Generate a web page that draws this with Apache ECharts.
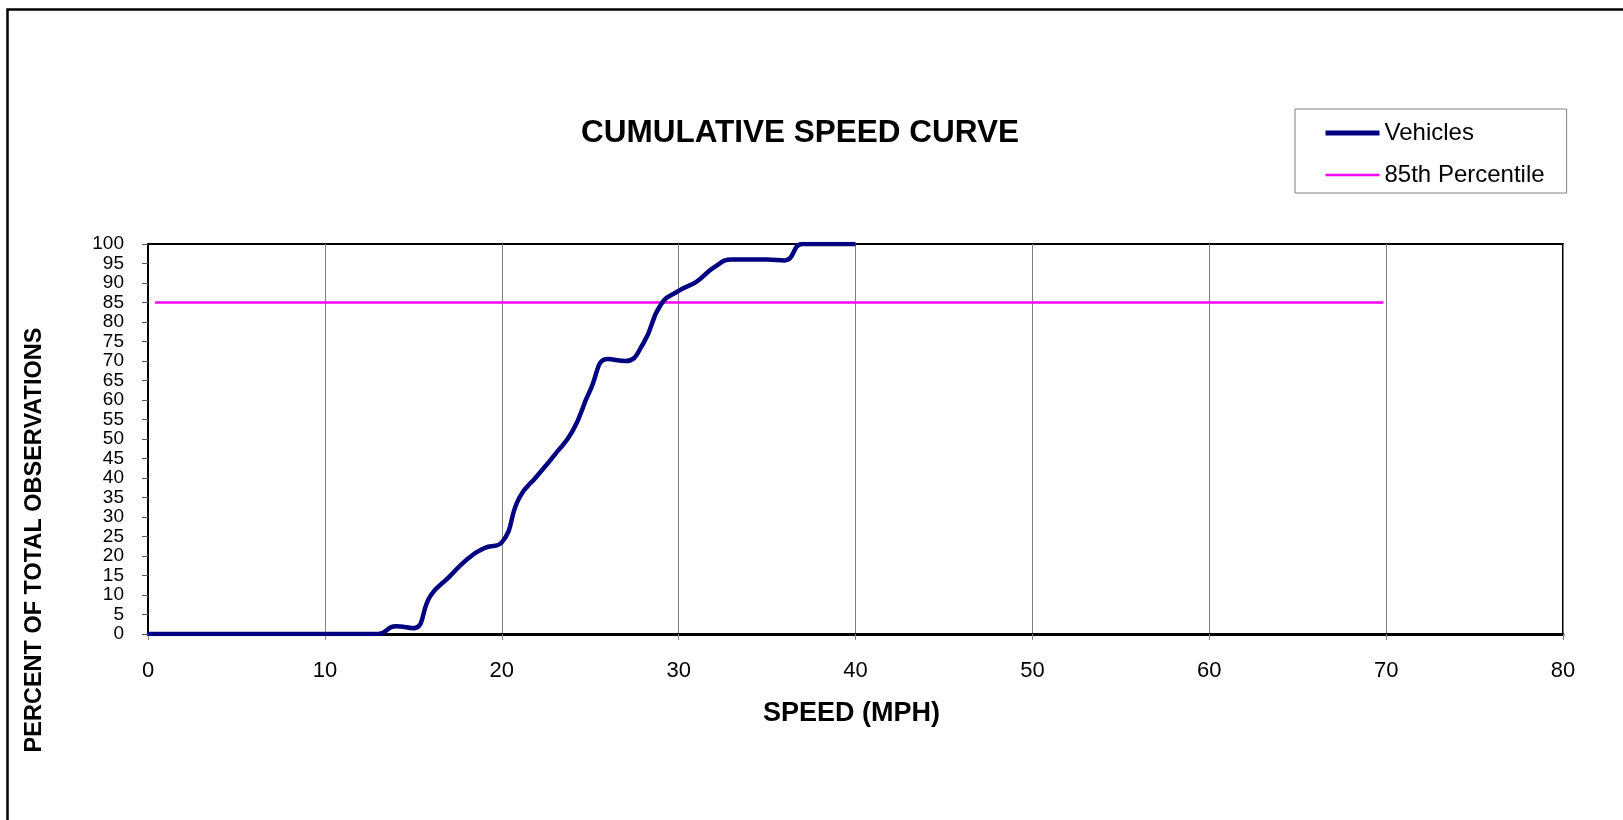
<!DOCTYPE html>
<html>
<head>
<meta charset="utf-8">
<script src="https://cdn.jsdelivr.net/npm/echarts@6/dist/echarts.min.js"></script>
<style>
  html, body { margin: 0; padding: 0; background: #fff; }
  #chart { width: 1623px; height: 820px; }
</style>
</head>
<body>
<div id="chart"></div>
<script>
// ---- data ----
const speeds = [0,1,2,3,4,5,6,7,8,9,10,11,12,13,14,15,16,17,18,19,20,21,22,23,24,25,26,27,28,29,30,31,32,33,34,35,36,37,38,39,40];
const vehicles = [0,0,0,0,0,0,0,0,0,0,0,0,0,0,2,1.5,10,14.5,19,22,23.5,35,40.5,46,52,62.5,70.5,70,74.5,84.5,88,90.3,94,96,96,96,95.8,100,100,100,100];
const percentileX = [0.4, 69.85];
const percentileY = [85, 85];
const xTicks = [0,10,20,30,40,50,60,70,80];
const seriesNames = ['Vehicles', '85th Percentile'];
const titleText = 'CUMULATIVE SPEED CURVE';
const xTitle = 'SPEED (MPH)';
const yTitle = 'PERCENT OF TOTAL OBSERVATIONS';

const vehData = speeds.map((s, i) => [s, vehicles[i]]);
const pctData = percentileX.map((s, i) => [s, percentileY[i]]);

const chart = echarts.init(document.getElementById('chart'), null, { renderer: 'canvas' });
const FONT = 'Liberation Sans, Arial, sans-serif';
const VEH_COLOR = '#000080';
const PCT_COLOR = '#FF00FF';

chart.setOption({
  backgroundColor: '#fff',
  animation: false,
  grid: {
    left: 148, right: 60, top: 244, bottom: 186,
    show: true, borderColor: '#000', borderWidth: 2, backgroundColor: '#fff'
  },
  xAxis: {
    type: 'value', min: 0, max: 80, interval: 10,
    name: xTitle, nameLocation: 'middle', nameGap: 66,
    nameTextStyle: { fontFamily: FONT, fontSize: 27, fontWeight: 'bold', color: '#000', padding: [0, 8, 0, 0] },
    axisLine: { show: true, onZero: false, lineStyle: { color: '#000', width: 3 } },
    axisTick: { show: true, length: 6, lineStyle: { color: '#888' } },
    axisLabel: { fontFamily: FONT, fontSize: 22, color: '#000', margin: 26,
      showMinLabel: true, showMaxLabel: true, hideOverlap: false,
      formatter: v => xTicks.includes(v) ? String(v) : '' },
    splitLine: { show: true, lineStyle: { color: '#808080', width: 1 } }
  },
  yAxis: {
    type: 'value', min: 0, max: 100, interval: 5,
    axisLine: { show: true, lineStyle: { color: '#000', width: 2 } },
    axisTick: { show: true, length: 6, lineStyle: { color: '#555' } },
    axisLabel: { fontFamily: FONT, fontSize: 19, lineHeight: 19, color: '#000', margin: 24,
      showMinLabel: true, showMaxLabel: true, hideOverlap: false },
    splitLine: { show: false }
  },
  legend: {
    orient: 'vertical',
    left: 1295, top: 109,
    padding: [10, 22, 4, 28],
    itemWidth: 54, itemHeight: 14, itemGap: 14,
    borderColor: '#808080', borderWidth: 1, backgroundColor: '#fff',
    itemStyle: { opacity: 0 },
    textStyle: { fontFamily: FONT, fontSize: 24, color: '#000', lineHeight: 28 },
    data: [
      { name: seriesNames[0], lineStyle: { color: VEH_COLOR, width: 5 } },
      { name: seriesNames[1], lineStyle: { color: PCT_COLOR, width: 2.5 } }
    ]
  },
  graphic: [
    { type: 'rect', silent: true, z: 100,
      shape: { x: 7.5, y: 9.5, width: 1700, height: 900 },
      style: { fill: 'none', stroke: '#000', lineWidth: 2.5 } },
    { type: 'text', x: 800, y: 133, z: 100,
      style: { text: titleText, font: 'bold 31.5px ' + FONT, fill: '#000', align: 'center', verticalAlign: 'middle' } },
    { type: 'text', x: 35, y: 540, rotation: Math.PI / 2, z: 100,
      style: { text: yTitle, font: 'bold 23.5px ' + FONT, fill: '#000', align: 'center', verticalAlign: 'middle' } }
  ],
  series: [
    {
      name: seriesNames[0], type: 'line', data: vehData, smooth: 0.5,
      showSymbol: false, symbol: 'none', z: 5,
      lineStyle: { color: VEH_COLOR, width: 4.5 }, itemStyle: { color: VEH_COLOR }
    },
    {
      name: seriesNames[1], type: 'line', data: pctData,
      showSymbol: false, symbol: 'none', z: 4,
      lineStyle: { color: PCT_COLOR, width: 2.5 }, itemStyle: { color: PCT_COLOR }
    }
  ]
});
</script>
</body>
</html>
